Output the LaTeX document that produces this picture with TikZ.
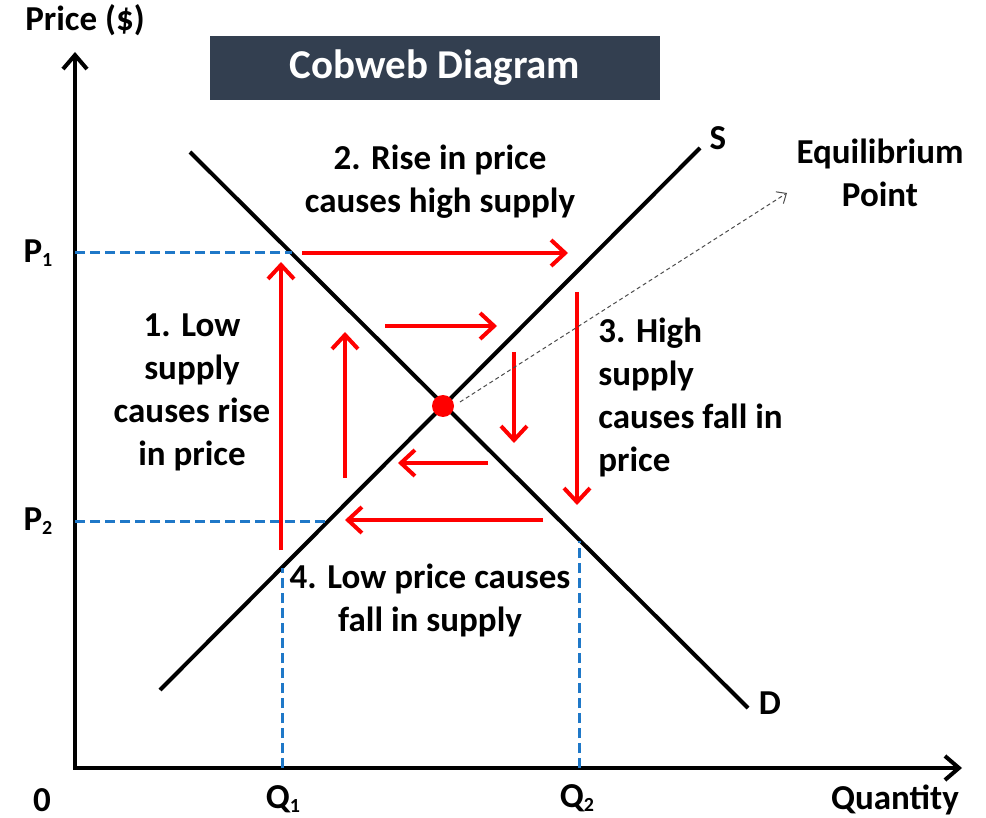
\documentclass[tikz,border=0pt]{standalone}
\usepackage{fontspec}
\setmainfont{Carlito}
\usetikzlibrary{arrows.meta, positioning, calc}
\definecolor{titlebg}{HTML}{333F50}
\definecolor{guideblue}{HTML}{1F78C8}
\newcommand{\lowsub}[1]{\raisebox{-0.25ex}{\fontsize{10}{10}\selectfont #1}}

\begin{document}
\begin{tikzpicture}[
  x=0.5pt, y=-0.5pt,
  every node/.style={font=\fontsize{17.5}{21.5}\selectfont\bfseries, inner sep=0pt},
  txt/.style={align=center},
  curve/.style={line width=2pt},
  axis/.style={line width=2pt, {Straight Barb[length=7pt, width=12pt]}-{Straight Barb[length=7pt, width=12pt]}},
  move/.style={red, line width=2pt, -{Straight Barb[length=7pt, width=13pt]}},
  guide/.style={guideblue, line width=1.5pt, dash pattern=on 5pt off 2.5pt},
  pointer/.style={black!70, line width=0.5pt, dash pattern=on 2pt off 1.5pt,
                  -{Straight Barb[length=4pt, width=7pt]}}
]
  \useasboundingbox (0,0) rectangle (986,818);

  % axes
  \coordinate (O) at (75,768);
  \coordinate (ytop) at (75,52);
  \coordinate (xend) at (962,768);
  \draw[axis] (ytop) -- (O) -- (xend);

  % title
  \node[fill=titlebg, text=white, minimum width=225pt, minimum height=32pt,
        font=\fontsize{20.5}{22}\selectfont\bfseries] (title) at (435,68) {Cobweb Diagram};

  % supply and demand
  \coordinate (d0) at (190,152);
  \coordinate (d1) at (748,708);
  \coordinate (s0) at (160,690);
  \coordinate (s1) at (700,148);
  \draw[curve] (d0) -- (d1);
  \draw[curve] (s0) -- (s1);
  \node (S) at (718,138) {S};
  \node (D) at (770,703) {D};

  % price and quantity guides
  \coordinate (p1) at (75,253);
  \coordinate (p2) at (75,521);
  \coordinate (q1) at (282,768);
  \coordinate (q2) at (579,768);
  \draw[guide] (p1) -- (292,253);
  \draw[guide] (p2) -- (329,521);
  \draw[guide] (q1) -- (282,568);
  \draw[guide] (q2) -- (579,541);

  % cobweb moves
  \draw[move] (281,550) -- (281,262);
  \draw[move] (302,253) -- (568,253);
  \draw[move] (577,292) -- (577,505);
  \draw[move] (543,520) -- (345,520);
  \draw[move] (345,478) -- (345,332);
  \draw[move] (385,326) -- (497,326);
  \draw[move] (514,352) -- (514,443);
  \draw[move] (488,463) -- (398,463);

  % equilibrium
  \coordinate (E) at (443,406);
  \node (eq) at (880,173) [txt] {Equilibrium\\Point};
  \draw[pointer] (460,402) -- (787,193);
  \fill[red] (E) circle (5.5pt);

  % step texts
  \node[txt] (rise) at (440,182) {2. Rise in price\\causes high supply};
  \node[txt] (low)  at (192,392) {1. Low\\supply\\causes rise\\in price};
  \node[align=left, anchor=west] (high) at (598,397) {3. High\\supply\\causes fall in\\price};
  \node[txt] (fall) at (430,600) {4. Low price causes\\fall in supply};

  % axis labels
  \node (price) at (85,20) {Price (\$)};
  \node (qty) at (895,800) {Quantity};
  \node (zero) at (42,800) {0};
  \node (P1) at (38,253) {P\lowsub{1}};
  \node (P2) at (38,521) {P\lowsub{2}};
  \node (Q1) at (283,799) {Q\lowsub{1}};
  \node (Q2) at (577,798) {Q\lowsub{2}};
\end{tikzpicture}
\end{document}
